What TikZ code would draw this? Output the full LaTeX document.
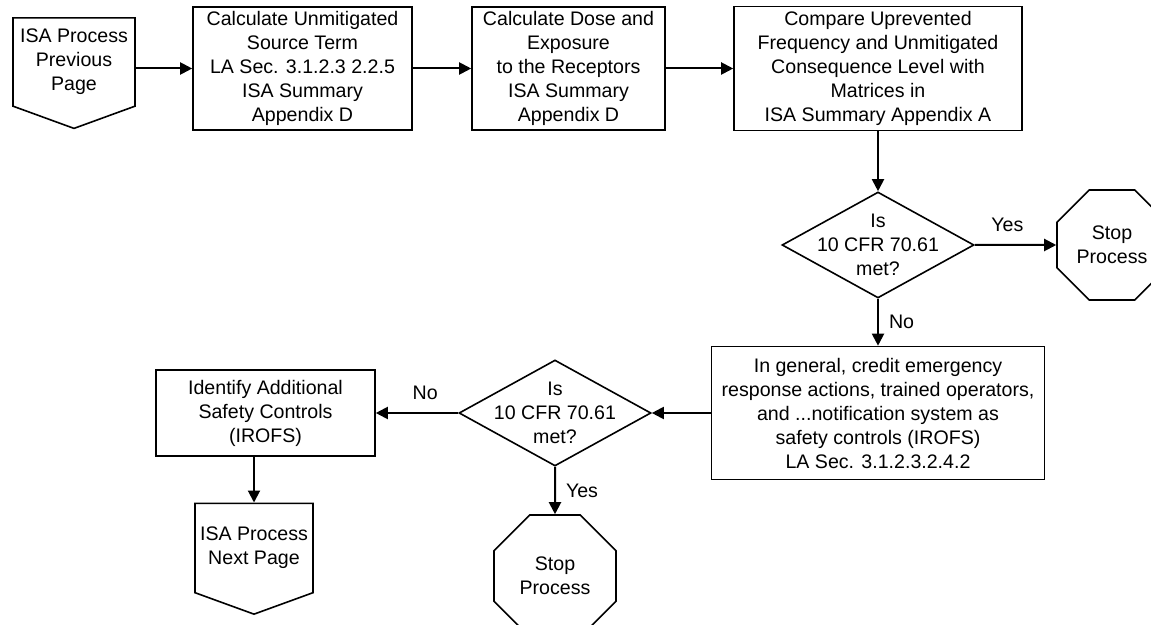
\documentclass[tikz,border=0pt]{standalone}
\usepackage{fontspec}
\setmainfont{Liberation Sans}
\usetikzlibrary{shapes.geometric, shapes.symbols, arrows.meta}

\begin{document}
\begin{tikzpicture}[x=0.5pt, y=-0.5pt,
	font=\fontsize{9.8}{12}\selectfont,
	procbox/.style={rectangle, draw, line width=0.8pt, align=center, inner sep=0pt},
	decision/.style={diamond, draw, line width=0.8pt, align=center, aspect=1.8,
		inner xsep=-10pt, inner ysep=-6pt, minimum width=96pt, minimum height=53pt},
	stopsign/.style={regular polygon, regular polygon sides=8, draw, line width=0.8pt,
		align=center, inner sep=0pt},
	pageconn/.style={signal, signal to=south, signal from=nothing, signal pointer angle=140,
		draw, line width=0.8pt, align=center, inner sep=0pt},
	flow/.style={-{Triangle[length=6pt, width=6pt]}, line width=1pt},
	lbl/.style={inner sep=3pt}]

	\useasboundingbox (0,0) rectangle (1151,625);

	% top row
	\node (prevpage) [pageconn, minimum width=61pt, minimum height=54pt] at (74, 62) {ISA Process\\Previous\\Page};
	\node (srcterm) [procbox, minimum width=109.5pt, minimum height=61.5pt] at (302.5, 68.5) {Calculate Unmitigated\\Source Term\\LA Sec. 3.1.2.3 2.2.5\\ISA Summary\\Appendix D};
	\node (dose) [procbox, minimum width=96.5pt, minimum height=61.5pt] at (568.5, 68.5) {Calculate Dose and\\Exposure\\to the Receptors\\ISA Summary\\Appendix D};
	\node (compare) [procbox, minimum width=144pt, minimum height=62pt] at (878, 68.5) {Compare Uprevented\\Frequency and Unmitigated\\Consequence Level with\\Matrices in\\ISA Summary Appendix A};

	% first check
	\node (cfrA) [decision] at (878, 245) {Is\\10 CFR 70.61\\met?};
	\node (stopA) [stopsign, minimum size=59.5pt] at (1112, 245) {Stop\\Process};

	% second check
	\node (credit) [procbox, minimum width=166.5pt, minimum height=66.5pt] at (878, 413) {In general, credit emergency\\response actions, trained operators,\\and ...notification system as\\safety controls (IROFS)\\LA Sec. 3.1.2.3.2.4.2};
	\node (cfrB) [decision] at (555, 413) {Is\\10 CFR 70.61\\met?};
	\node (stopB) [stopsign, minimum size=66pt] at (555, 576) {Stop\\Process};
	\node (addctl) [procbox, minimum width=109.5pt, minimum height=43pt] at (265.5, 413) {Identify Additional\\Safety Controls\\(IROFS)};
	\node (nextpage) [pageconn, minimum width=59pt, minimum height=54.5pt] at (254, 548) {ISA Process\\Next Page};

	\draw[flow] (prevpage.east |- srcterm.west) -- (srcterm.west);
	\draw[flow] (srcterm) -- (dose);
	\draw[flow] (dose) -- (compare);
	\draw[flow] (compare) -- (cfrA);
	\draw[flow] (cfrA) -- node[lbl, above, pos=0.4, yshift=3pt] (yesA) {Yes} (stopA);
	\draw[flow] (cfrA) -- node[lbl, right, xshift=2pt] (noA) {No} (credit);
	\draw[flow] (credit) -- (cfrB);
	\draw[flow] (cfrB) -- node[lbl, above, pos=0.4, yshift=3pt] (noB) {No} (addctl);
	\draw[flow] (cfrB) -- node[lbl, right, xshift=2pt] (yesB) {Yes} (stopB);
	\draw[flow] (addctl.south -| nextpage.north) -- (nextpage.north);

\end{tikzpicture}
\end{document}
